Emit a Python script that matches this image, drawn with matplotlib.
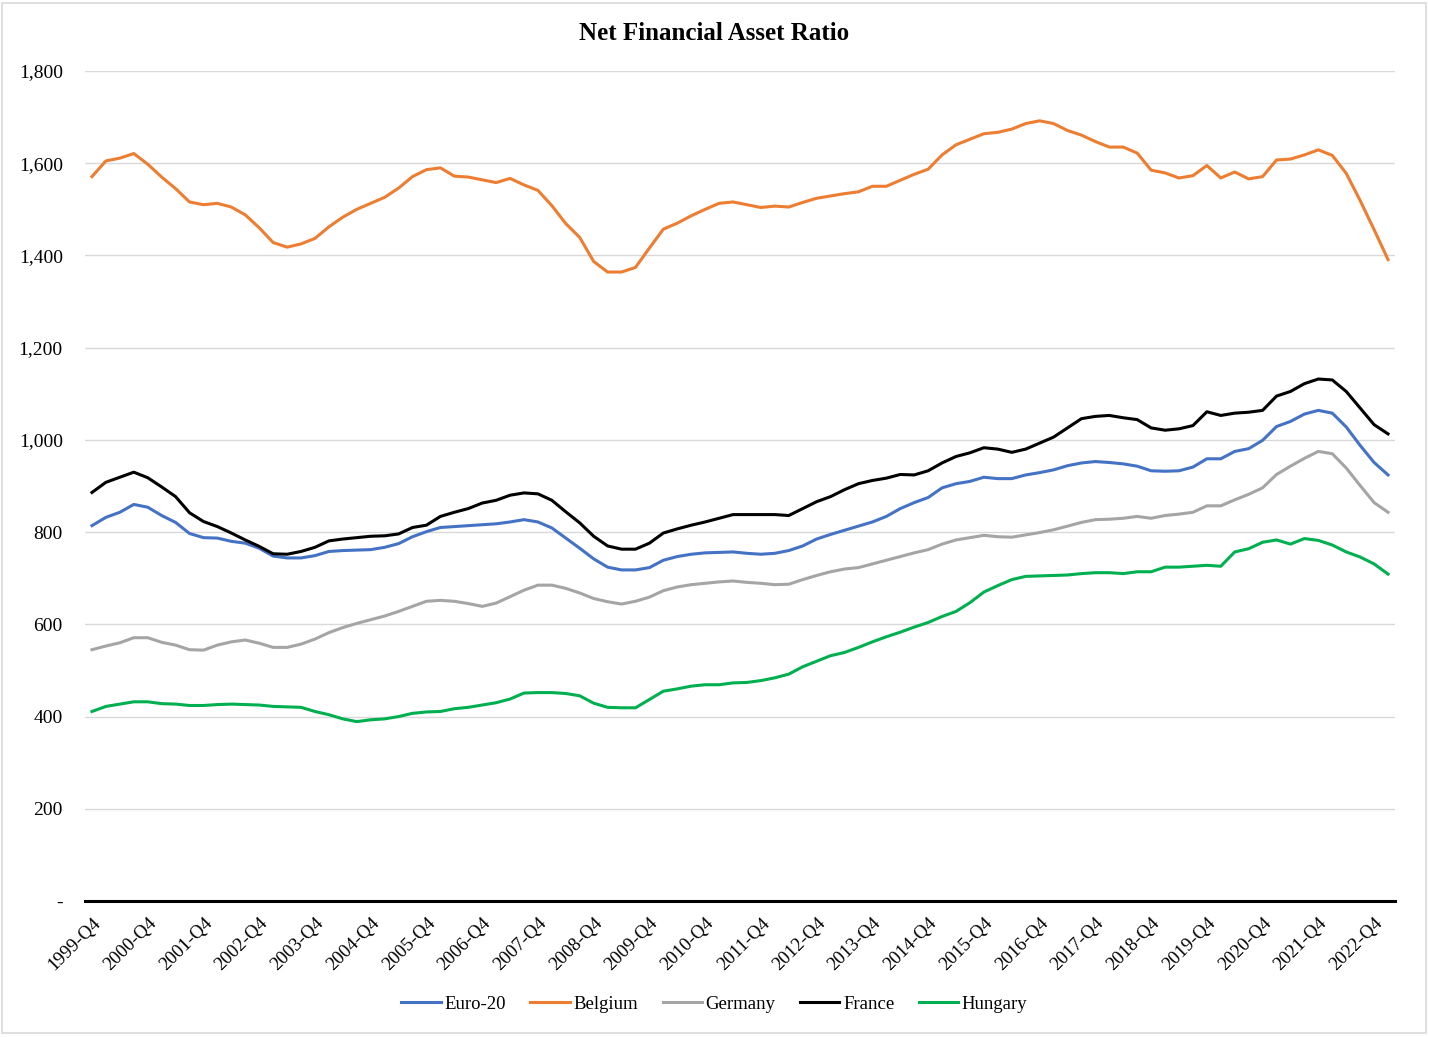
import matplotlib
matplotlib.use("Agg")
import matplotlib.pyplot as plt
from matplotlib.ticker import FuncFormatter, FixedLocator
from matplotlib.patches import Rectangle

# ---- data -------------------------------------------------------------
n_quarters = 94  # 1999-Q4 .. 2023-Q1
quarters = []
y, q = 1999, 4
for _ in range(n_quarters):
    quarters.append(f"{y}-Q{q}")
    q += 1
    if q > 4:
        q = 1
        y += 1

euro20 = [814, 832, 843, 860, 854, 836, 821, 797, 788, 787, 780, 776, 765, 748, 744, 744,
          749, 758, 760, 761, 762, 767, 775, 790, 801, 810, 812, 814, 816, 818, 822, 827,
          822, 809, 787, 765, 742, 724, 718, 718, 723, 739, 747, 752, 755, 756, 757, 754,
          752, 754, 760, 770, 785, 795, 804, 813, 822, 834, 851, 864, 875, 896, 905, 910,
          919, 916, 916, 924, 929, 935, 944, 950, 953, 951, 948, 943, 933, 932, 933, 941,
          959, 959, 975, 981, 999, 1029, 1040, 1056, 1064, 1058, 1028, 988, 951, 924]

belgium = [1571, 1605, 1611, 1621, 1598, 1570, 1545, 1516, 1510, 1513, 1505, 1488, 1460, 1428,
           1418, 1425, 1437, 1462, 1483, 1500, 1513, 1526, 1546, 1571, 1586, 1590, 1572, 1570,
           1564, 1558, 1567, 1553, 1541, 1508, 1469, 1439, 1387, 1364, 1364, 1374, 1416, 1457,
           1470, 1486, 1500, 1513, 1516, 1510, 1504, 1507, 1505, 1515, 1524, 1529, 1534, 1538,
           1550, 1550, 1563, 1576, 1587, 1618, 1640, 1652, 1664, 1667, 1674, 1686, 1692, 1686,
           1671, 1661, 1647, 1635, 1635, 1622, 1585, 1579, 1568, 1573, 1595, 1568, 1581, 1566,
           1571, 1607, 1609, 1618, 1629, 1617, 1578, 1519, 1456, 1391]

germany = [545, 553, 560, 571, 571, 561, 555, 545, 544, 555, 562, 566, 559, 550, 550, 557,
           568, 582, 593, 602, 610, 618, 628, 639, 650, 652, 650, 645, 639, 646, 660, 674,
           685, 685, 678, 668, 656, 649, 644, 650, 659, 673, 681, 686, 689, 692, 694, 691,
           689, 686, 687, 697, 706, 714, 720, 723, 731, 739, 747, 755, 762, 774, 783, 788,
           793, 790, 789, 794, 799, 805, 813, 821, 827, 828, 830, 834, 830, 836, 839, 843,
           857, 857, 870, 882, 896, 925, 943, 960, 975, 970, 939, 901, 864, 843]

france = [886, 908, 919, 930, 918, 898, 877, 842, 823, 812, 798, 783, 769, 753, 752, 758,
          767, 781, 785, 788, 791, 792, 796, 810, 815, 834, 843, 851, 863, 869, 880, 885,
          883, 869, 844, 820, 791, 770, 763, 763, 776, 798, 807, 815, 822, 830, 838, 838,
          838, 838, 836, 851, 866, 877, 892, 905, 912, 917, 925, 924, 933, 950, 964, 972,
          983, 980, 973, 980, 993, 1006, 1026, 1046, 1051, 1053, 1048, 1044, 1026, 1021, 1024, 1031,
          1061, 1053, 1058, 1060, 1064, 1095, 1105, 1122, 1132, 1130, 1105, 1069, 1033, 1013]

hungary = [411, 422, 427, 432, 432, 428, 427, 424, 424, 426, 427, 426, 425, 422, 421, 420,
           411, 404, 395, 389, 393, 395, 400, 407, 410, 411, 417, 420, 425, 430, 438, 451,
           452, 452, 450, 445, 429, 420, 419, 419, 437, 455, 460, 466, 469, 469, 473, 474,
           478, 484, 492, 508, 520, 532, 539, 550, 562, 573, 583, 594, 604, 617, 628, 647,
           670, 684, 697, 704, 705, 706, 707, 710, 712, 712, 710, 714, 714, 724, 724, 726,
           728, 726, 757, 764, 778, 783, 774, 786, 782, 772, 757, 746, 731, 709]

series_names = ["Euro-20", "Belgium", "Germany", "France", "Hungary"]
series_values = [euro20, belgium, germany, france, hungary]
series_colors = ["#4472C4", "#ED7D31", "#A5A5A5", "#000000", "#00B050"]

y_ticks = [0, 200, 400, 600, 800, 1000, 1200, 1400, 1600, 1800]

# ---- figure -----------------------------------------------------------
plt.rcParams["font.family"] = ["Liberation Serif", "DejaVu Serif"]

W, H = 1429, 1037
fig = plt.figure(figsize=(W / 100, H / 100), dpi=100)
ax = fig.add_axes([85 / W, 1 - 901 / H, (1395 - 85) / W, (901 - 71) / H])

x = list(range(len(quarters)))
for name, vals, col in zip(series_names, series_values, series_colors):
    ax.plot(x, vals, color=col, lw=2.2, label=name, solid_joinstyle="round")

ax.set_xlim(-0.5, len(quarters) - 0.5)
ax.set_ylim(0, 1800)

ax.yaxis.set_major_locator(FixedLocator(y_ticks))
ax.yaxis.set_major_formatter(FuncFormatter(lambda v, p: "-" if v == 0 else f"{int(v):,}"))
ax.grid(axis="y", color="#D9D9D9", lw=1.0)
ax.set_axisbelow(True)

tick_idx = [i for i, lab in enumerate(quarters) if lab.endswith("Q4")]
ax.set_xticks(tick_idx)
ax.set_xticklabels([quarters[i] for i in tick_idx], rotation=45, ha="right",
                   rotation_mode="anchor", fontsize=13.5)
ax.tick_params(axis="x", length=0, pad=10)
ax.tick_params(axis="y", length=0, labelsize=14, pad=16)

for s in ["left", "right", "top"]:
    ax.spines[s].set_visible(False)
ax.spines["bottom"].set_color("black")
ax.spines["bottom"].set_linewidth(2.2)
ax.spines["bottom"].set_zorder(5)

fig.text(0.5, 1 - 33 / H, "Net Financial Asset Ratio", ha="center", va="center",
         fontsize=18, fontweight="bold")

fig.legend(loc="center", bbox_to_anchor=(0.5, 1 - 1004 / H), ncol=5, frameon=False,
           fontsize=13.5, handlelength=2.1, handletextpad=0.2, columnspacing=1.3)

fig.patches.append(Rectangle((2 / W, 4 / H), (W - 5) / W, (H - 7) / H, transform=fig.transFigure,
                             fill=False, edgecolor="#D9D9D9", lw=1.2))

fig.savefig("out.png", dpi=100, facecolor="white")
